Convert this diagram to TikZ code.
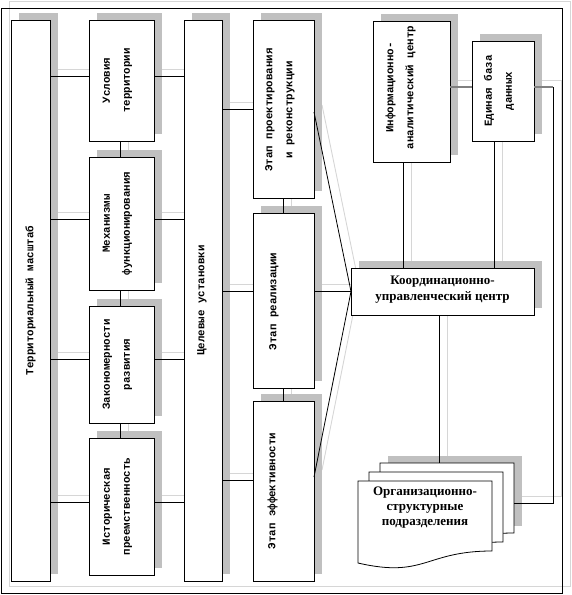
\documentclass[tikz,border=0pt]{standalone}
\usepackage{fontspec}
\setmainfont{Liberation Serif}
\newfontfamily\monofam{Liberation Mono}
\usetikzlibrary{calc}
\definecolor{shadowgray}{RGB}{192,192,192}
\definecolor{ghost}{RGB}{214,214,214}
\definecolor{linkgray}{RGB}{128,128,128}
\pgfdeclarelayer{ghostlayer}
\pgfdeclarelayer{shadowlayer}
\pgfsetlayers{ghostlayer,shadowlayer,main}
\newcommand\shadowof[1]{\begin{pgfonlayer}{shadowlayer}\fill[shadowgray] ([xshift=8pt,yshift=7pt]#1.south west) rectangle ([xshift=8pt,yshift=7pt]#1.north east);\end{pgfonlayer}}
\newcommand\dconn[2][link]{\begin{pgfonlayer}{ghostlayer}\draw[ghostlink,transform canvas={xshift=8pt,yshift=7pt}] #2;\end{pgfonlayer}\draw[#1] #2;}
\newcommand\boxat[5]{\node[box,minimum width=#4pt,minimum height=#5pt,anchor=north west] (#1) at (#2,#3) {};\shadowof{#1}}
\begin{document}
\begin{tikzpicture}[x=1pt,y=-1pt,
  box/.style={draw=black,line width=0.8pt,fill=white,inner sep=0pt,outer sep=0pt},
  framebox/.style={draw=black,line width=0.8pt,inner sep=0pt,outer sep=0pt},
  rtext/.style={rotate=90,font=\monofam\bfseries\fontsize{10.8}{20}\selectfont,align=center,inner sep=0pt},
  htext/.style={font=\bfseries\fontsize{13}{16}\selectfont,align=center,inner sep=0pt},
  link/.style={draw=black,line width=0.8pt},
  graylink/.style={draw=linkgray,line width=1.4pt},
  ghostlink/.style={draw=ghost,line width=0.9pt}
]
\useasboundingbox (0,0) rectangle (572,595);
% outer frame
\node[framebox,minimum width=561pt,minimum height=585pt,anchor=north west] (frm) at (1,8) {};
\begin{pgfonlayer}{ghostlayer}
\draw[ghostlink,transform canvas={xshift=8pt,yshift=7pt}] (frm.south west) rectangle (frm.north east);
\end{pgfonlayer}
% boxes
\boxat{ter}{11}{20}{39}{561}
\boxat{usl}{89}{20}{65}{121}
\boxat{mech}{89}{157}{65}{133}
\boxat{zak}{89}{306}{65}{117}
\boxat{hist}{89}{438}{65}{137}
\boxat{cel}{184}{20}{38}{561}
\boxat{st1}{253}{20}{61}{178}
\boxat{st2}{253}{213}{61}{175}
\boxat{st3}{253}{401}{61}{180}
\boxat{info}{373}{21}{77}{141}
\boxat{db}{472}{41}{62}{100}
\boxat{coord}{351}{268}{183}{47}
% texts
\node[rtext] (terT) at (ter.center) {Территориальный масштаб};
\node[rtext] (uslT) at ($(usl.center)+(-4,0)$) {Условия\\территории};
\node[rtext] (mechT) at ($(mech.center)+(-4,0)$) {Механизмы\\функционирования};
\node[rtext] (zakT) at ($(zak.center)+(-4,0)$) {Закономерности\\развития};
\node[rtext] (histT) at ($(hist.center)+(-4,0)$) {Историческая\\преемственность};
\node[rtext] (celT) at ($(cel.center)+(-1,0)$) {Целевые установки};
\node[rtext] (st1T) at ($(st1.center)+(-3.5,1)$) {Этап проектирования\\и реконструкции};
\node[rtext] (st2T) at ($(st2.center)+(-9.5,1)$) {Этап реализации};
\node[rtext] (st3T) at ($(st3.center)+(-11,0)$) {Этап эффективности};
\node[rtext] (infoT) at ($(info.center)+(-11,-4)$) {Информационно-\\аналитический центр};
\node[rtext] (dbT) at ($(db.center)+(-4,0)$) {Единая база\\данных};
\node[htext] (coordT) at ($(coord.center)+(0,-1.5)$) {Координационно-\\управленческий центр};
% multidocument
\begin{scope}[shift={(380,463)}]
  \coordinate (d3) at (0,0);
  \coordinate (d3r) at (134,40);
  \begin{pgfonlayer}{shadowlayer}
  \fill[shadowgray] (8,-7) rectangle (142,63);
  \end{pgfonlayer}
  \draw[box] (0,0) -- (134,0) -- (134,70) .. controls (67,70) and (67,97.5) .. (0,82) -- cycle;
\end{scope}
\begin{scope}[shift={(369,472)}]
  \draw[box] (0,0) -- (134,0) -- (134,70) .. controls (67,70) and (67,97.5) .. (0,82) -- cycle;
\end{scope}
\begin{scope}[shift={(358,481)}]
  \draw[box] (0,0) -- (134,0) -- (134,70) .. controls (67,70) and (67,97.5) .. (0,82) -- cycle;
\end{scope}
\node[htext,font=\bfseries\fontsize{13}{15}\selectfont] (docT) at (425,508) {Организационно-\\структурные\\подразделения};
% connectors: column 1 - column 2 - column 3
\dconn{([yshift=4pt]usl.west) -- ([yshift=4pt]usl.west -| ter.east)}
\dconn{([yshift=4pt]mech.west) -- ([yshift=4pt]mech.west -| ter.east)}
\dconn{([yshift=5pt]zak.west) -- ([yshift=5pt]zak.west -| ter.east)}
\dconn{([yshift=4pt]hist.west) -- ([yshift=4pt]hist.west -| ter.east)}
\dconn{([yshift=4pt]usl.east) -- ([yshift=4pt]usl.east -| cel.west)}
\dconn{([yshift=4pt]mech.east) -- ([yshift=4pt]mech.east -| cel.west)}
\dconn{([yshift=5pt]zak.east) -- ([yshift=5pt]zak.east -| cel.west)}
\dconn{([yshift=4pt]hist.east) -- ([yshift=4pt]hist.east -| cel.west)}
\dconn{([xshift=-1.5pt]usl.south) -- ([xshift=-1.5pt]mech.north)}
\dconn{([xshift=-1.5pt]mech.south) -- ([xshift=-1.5pt]zak.north)}
\dconn{([xshift=-1.5pt]zak.south) -- ([xshift=-1.5pt]hist.north)}
% column 3 - stages
\dconn{(st1.west) -- (st1.west -| cel.east)}
\dconn{([yshift=9pt]st2.west) -- ([yshift=9pt]st2.west -| cel.east)}
\dconn{([yshift=11pt]st3.west) -- ([yshift=11pt]st3.west -| cel.east)}
\dconn{(st1.south) -- (st2.north)}
\dconn{(st2.south) -- (st3.north)}
% stages - coordination
\dconn{([yshift=-3pt]st1.east) -- (coord.west)}
\dconn{([yshift=9pt]st2.east) -- (coord.west)}
\dconn{([yshift=14pt]st3.east) -- (coord.west)}
% right part
\dconn{([xshift=-8.5pt]info.south) -- ([xshift=-8.5pt]info.south |- coord.north)}
\dconn{([xshift=-9pt]db.south) -- ([xshift=-9pt]db.south |- coord.north)}
\dconn{([xshift=-3.5pt]coord.south) -- ([xshift=-3.5pt]coord.south |- d3)}
\coordinate (bend) at (553,87);
\dconn[graylink]{([yshift=4.5pt]info.east) -- ([yshift=4.5pt]info.east -| db.west)}
\dconn[graylink]{([yshift=4pt]db.east) -- (bend)}
\dconn{(bend) -- (bend |- d3r) -- (d3r)}
\end{tikzpicture}
\end{document}
